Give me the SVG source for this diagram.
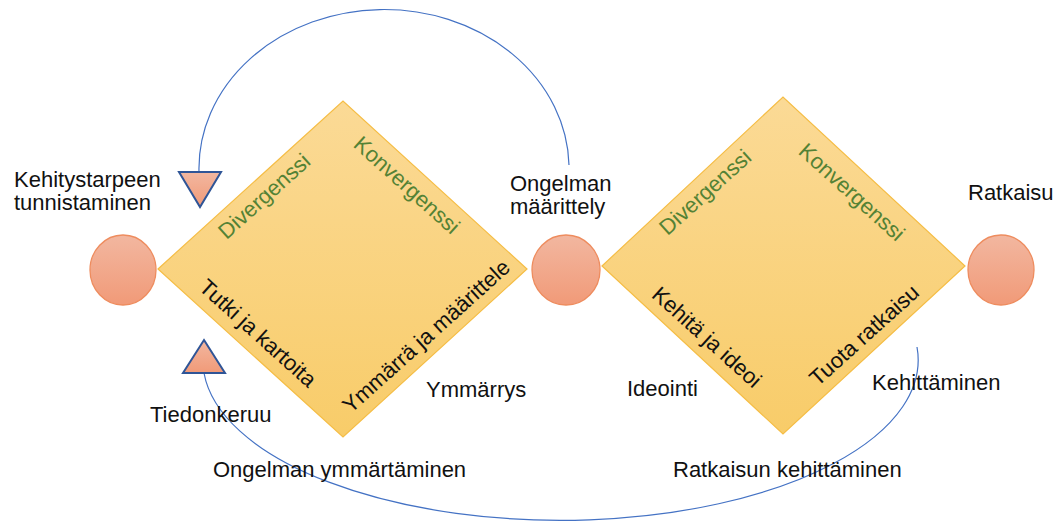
<svg xmlns="http://www.w3.org/2000/svg" width="1060" height="525" viewBox="0 0 1060 525">
  <defs>
    <linearGradient id="gradDiamond" x1="0" y1="0" x2="0" y2="1">
      <stop offset="0" stop-color="#fbda96"/>
      <stop offset="1" stop-color="#f8cc69"/>
    </linearGradient>
    <linearGradient id="gradSalmon" x1="0" y1="0" x2="0" y2="1">
      <stop offset="0" stop-color="#f2b7a0"/>
      <stop offset="1" stop-color="#f19a78"/>
    </linearGradient>
    <style>
      .diamond { fill: url(#gradDiamond); stroke: #f5bd45; stroke-width: 1.2; }
      .milestone { fill: url(#gradSalmon); stroke: #ee8c5e; stroke-width: 1.3; }
      .marker-tri { fill: url(#gradSalmon); stroke: #2f5597; stroke-width: 2; stroke-linejoin: miter; }
      .loop { fill: none; stroke: #4472c4; stroke-width: 1.2; }
      text { font-family: "Liberation Sans", Arial, Helvetica, sans-serif; font-size: 22px; fill: #111; }
      .phase { fill: #548235; }
      .diag { text-anchor: middle; }
    </style>
  </defs>

  <!-- feedback loops -->
  <g id="connectors">
    <path class="loop" d="M199,172 A185,159 0 0 1 569,165"/>
    <path class="loop" d="M204,373 A357,160 0 0 0 917,347"/>
  </g>

  <!-- first diamond: problem understanding -->
  <g id="diamond-problem">
    <polygon class="diamond" points="158,269 343,101 527,269 343,437"/>
    <text class="diag phase" transform="translate(264,196) rotate(-42)" dy="0.35em">Divergenssi</text>
    <text class="diag phase" transform="translate(407,185) rotate(42)" dy="0.35em">Konvergenssi</text>
    <text class="diag" transform="translate(258,333) rotate(42)" dy="0.35em">Tutki ja kartoita</text>
    <text class="diag" transform="translate(426,336) rotate(-42)" dy="0.35em">Ymmärrä ja määrittele</text>
  </g>

  <!-- second diamond: solution development -->
  <g id="diamond-solution">
    <polygon class="diamond" points="602,266 783,97 965,266 783,434"/>
    <text class="diag phase" transform="translate(705,192) rotate(-42)" dy="0.35em">Divergenssi</text>
    <text class="diag phase" transform="translate(852,192) rotate(42)" dy="0.35em">Konvergenssi</text>
    <text class="diag" transform="translate(707,337) rotate(42)" dy="0.35em">Kehitä ja ideoi</text>
    <text class="diag" transform="translate(864,335) rotate(-42)" dy="0.35em">Tuota ratkaisu</text>
  </g>

  <!-- milestones -->
  <g id="milestone-need">
    <ellipse class="milestone" cx="123" cy="270" rx="33" ry="35"/>
    <text x="14" y="187">Kehitystarpeen</text>
    <text x="14" y="210">tunnistaminen</text>
  </g>
  <g id="milestone-definition">
    <ellipse class="milestone" cx="566" cy="270" rx="34" ry="35"/>
    <text x="510" y="191">Ongelman</text>
    <text x="510" y="214">määrittely</text>
  </g>
  <g id="milestone-solution">
    <ellipse class="milestone" cx="1001" cy="270" rx="33" ry="35"/>
    <text x="968" y="200">Ratkaisu</text>
  </g>

  <!-- loop markers -->
  <g id="marker-down">
    <polygon class="marker-tri" points="179,172 221,172 200,207"/>
  </g>
  <g id="marker-up">
    <polygon class="marker-tri" points="204,340 225,373 183,373"/>
    <text x="150" y="422">Tiedonkeruu</text>
  </g>

  <!-- phase labels -->
  <g id="labels">
    <text x="426" y="397">Ymmärrys</text>
    <text x="627" y="396">Ideointi</text>
    <text x="872" y="390">Kehittäminen</text>
    <text x="213" y="477">Ongelman ymmärtäminen</text>
    <text x="673" y="477">Ratkaisun kehittäminen</text>
  </g>
</svg>
